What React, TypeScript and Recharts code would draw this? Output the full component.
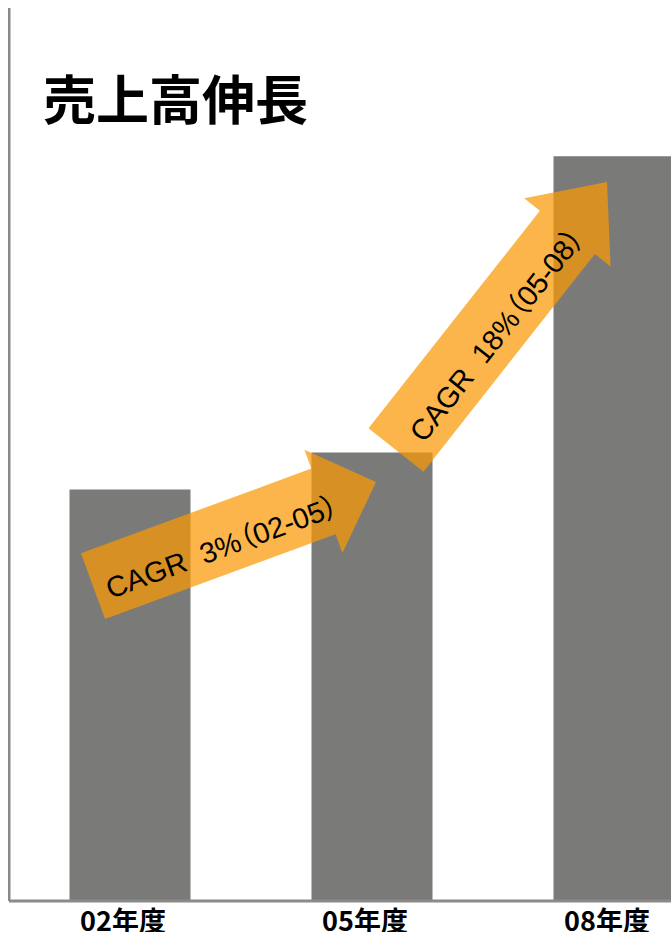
import { BarChart, Bar, XAxis, YAxis, ReferenceLine, Customized } from 'recharts';

// sales index per fiscal year (02年度 = 100)
const categories = ['02年度', '05年度', '08年度'];
const sales = [100, 109, 181];

// CAGR arrows, anchored on the categories and the value axis
const arrowFrom = ['02年度', '05年度'];
const arrowTo = ['05年度', '08年度'];
const arrowTailValue = [76.5, 109.6];
const arrowTipValue = [101.8, 174.7];
const cagrLabels = ['CAGR  3%（02-05）', 'CAGR  18%（05-08）'];

const title = '売上高伸長';

const data = categories.map((name, i) => ({ name, sales: sales[i] }));

// drawing tweaks for each arrow (pixels)
const arrowStyle = [
  { tailDx: -37, tipDx: 4, headLen: 56, textStart: 12 },
  { tailDx: 24, tipDx: -7, headLen: 64, textStart: 22 },
];

const BODY_HALF = 35;
const HEAD_HALF = 55;

const Arrow = ({ x1, y1, x2, y2, idx }: any) => {
  const st = arrowStyle[idx];
  const tx = x1 + st.tailDx;
  const ty = y1;
  const px = x2 + st.tipDx;
  const py = y2;
  const len = Math.hypot(px - tx, py - ty);
  const ux = (px - tx) / len;
  const uy = (py - ty) / len;
  const nx = -uy;
  const ny = ux;
  const bx = px - ux * st.headLen;
  const by = py - uy * st.headLen;
  const pts = [
    [tx + nx * BODY_HALF, ty + ny * BODY_HALF],
    [bx + nx * BODY_HALF, by + ny * BODY_HALF],
    [bx + nx * HEAD_HALF, by + ny * HEAD_HALF],
    [px, py],
    [bx - nx * HEAD_HALF, by - ny * HEAD_HALF],
    [bx - nx * BODY_HALF, by - ny * BODY_HALF],
    [tx - nx * BODY_HALF, ty - ny * BODY_HALF],
  ];
  const angle = (Math.atan2(uy, ux) * 180) / Math.PI;
  const lx = tx + ux * st.textStart + nx * 18;
  const ly = ty + uy * st.textStart + ny * 18;
  return (
    <g>
      <polygon
        points={pts.map((p) => p.join(',')).join(' ')}
        fill="rgb(250,152,4)"
        fillOpacity={0.72}
      />
      <text
        x={lx}
        y={ly}
        transform={`rotate(${angle}, ${lx}, ${ly})`}
        fontSize={29}
        fill="#000"
        fontFamily="'Liberation Sans', Arial, 'Noto Sans CJK JP', sans-serif"
        xmlSpace="preserve"
        style={{ whiteSpace: 'pre', fontFeatureSettings: '"palt"' }}
      >
        {cagrLabels[idx]}
      </text>
    </g>
  );
};

const CategoryTick = ({ x, y, payload }: any) => (
  <text
    x={x - 7}
    y={y + 28}
    textAnchor="middle"
    fontSize={27}
    fontWeight={700}
    fill="#000"
    fontFamily="'Noto Sans CJK JP', sans-serif"
  >
    {payload.value}
  </text>
);

const Title = () => (
  <text
    x={35}
    y={112}
    fontSize={53}
    fontWeight={700}
    fill="#000"
    fontFamily="'Noto Sans CJK JP', sans-serif"
  >
    {title}
  </text>
);

export default function App() {
  return (
    <div style={{ width: 663, height: 924, overflow: 'hidden', background: '#fff' }}>
      <style>{'html { overflow: hidden; } body { margin: 8px 0 0 8px; }'}</style>
      <BarChart
        width={727}
        height={924}
        data={data}
        margin={{ top: 0, right: 0, bottom: 0, left: 0 }}
        barCategoryGap="25%"
      >
        <XAxis
          dataKey="name"
          height={31}
          tickSize={0}
          tickLine={false}
          axisLine={{ stroke: '#8a8a8a', strokeWidth: 3 }}
          tick={<CategoryTick />}
        />
        <YAxis
          width={1}
          domain={[0, 217]}
          tick={false}
          tickLine={false}
          axisLine={{ stroke: '#8a8a8a', strokeWidth: 3 }}
        />
        <Bar dataKey="sales" fill="#7a7b78" isAnimationActive={false} />
        {arrowFrom.map((from, i) => (
          <ReferenceLine
            key={i}
            segment={[
              { x: from, y: arrowTailValue[i] },
              { x: arrowTo[i], y: arrowTipValue[i] },
            ]}
            ifOverflow="visible"
            shape={(p: any) => <Arrow {...p} idx={i} />}
          />
        ))}
        <Customized component={<Title />} />
      </BarChart>
    </div>
  );
}
